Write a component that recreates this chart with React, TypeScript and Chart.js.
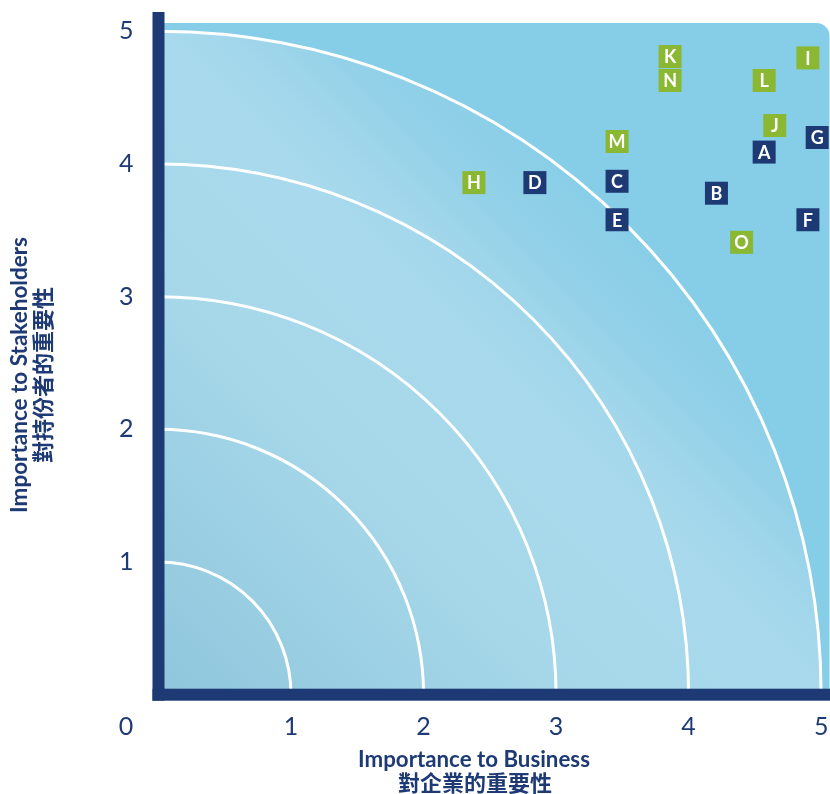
import React, { useEffect, useRef } from "react";
import { Chart, registerables } from "chart.js";

Chart.register(...registerables);

// ---- data ----
const AXIS_TICKS = [0, 1, 2, 3, 4, 5];
const RINGS = [1, 2, 3, 4, 5];
const AXIS_MAX = 5.063;

const NAVY_LABELS = ["A", "B", "C", "D", "E", "F", "G"];
const NAVY_X = [4.57, 4.21, 3.46, 2.84, 3.46, 4.9, 4.97];
const NAVY_Y = [4.09, 3.78, 3.87, 3.86, 3.58, 3.58, 4.2];

const GREEN_LABELS = ["H", "I", "J", "K", "L", "M", "N", "O"];
const GREEN_X = [2.38, 4.9, 4.65, 3.86, 4.57, 3.46, 3.86, 4.4];
const GREEN_Y = [3.86, 4.8, 4.29, 4.81, 4.63, 4.17, 4.63, 3.41];

const X_TITLE = ["Importance to Business", "對企業的重要性"];
const Y_TITLE = ["Importance to Stakeholders", "對持份者的重要性"];
const ORIGIN_LABEL = "0";

// ---- styles ----
const NAVY = "#1e3a75";
const GREEN = "#8ab832";
const TEXT = "#1e3a75";
const LATIN = "Lato, 'Noto Sans', sans-serif";
const CJK = "'Noto Sans CJK TC', 'Noto Sans CJK SC', sans-serif";
const TICK_SIZE = 25;

function fitFont(ctx: CanvasRenderingContext2D, text: string, width: number, weight: string, family: string) {
  ctx.font = `${weight} 100px ${family}`;
  const w = ctx.measureText(text).width;
  const size = (100 * width) / w;
  ctx.font = `${weight} ${size}px ${family}`;
}

const backgroundPlugin = {
  id: "matrixBackground",
  beforeDatasetsDraw(chart: any) {
    const { ctx, chartArea: a, scales } = chart;
    const x = scales.x;
    const y = scales.y;
    const ox = x.getPixelForValue(0);
    const oy = y.getPixelForValue(0);
    const rx = x.getPixelForValue(1) - ox;
    const ry = oy - y.getPixelForValue(1);
    const L = ox;
    const T = a.top;
    const R = a.right;
    const B = oy;
    const cr = 13;
    ctx.save();
    ctx.beginPath();
    ctx.moveTo(L, T);
    ctx.lineTo(R - cr, T);
    ctx.arcTo(R, T, R, T + cr, cr);
    ctx.lineTo(R, B);
    ctx.lineTo(L, B);
    ctx.closePath();
    ctx.fillStyle = "#86cee7";
    ctx.fill();
    ctx.clip();

    // diagonal gradient inside the outer ring
    const g = ctx.createLinearGradient(ox, oy, ox + 5 * rx, oy - 5 * ry);
    g.addColorStop(0, "#8fc6dc");
    g.addColorStop(0.33, "#a7d8ea");
    g.addColorStop(0.5, "#a8d9ec");
    g.addColorStop(0.55, "#a3d7eb");
    g.addColorStop(0.62, "#93d1e8");
    g.addColorStop(0.71, "#88cee7");
    g.addColorStop(1, "#86cee7");
    ctx.beginPath();
    ctx.moveTo(ox, oy);
    ctx.ellipse(ox, oy, 5 * rx, 5 * ry, 0, -Math.PI / 2, 0);
    ctx.closePath();
    ctx.fillStyle = g;
    ctx.fill();

    ctx.strokeStyle = "#ffffff";
    ctx.lineWidth = 3;
    for (const r of RINGS) {
      ctx.beginPath();
      ctx.ellipse(ox, oy, r * rx, r * ry, 0, -Math.PI / 2, 0);
      ctx.stroke();
    }
    ctx.restore();

    ctx.save();
    ctx.fillStyle = NAVY;
    ctx.fillRect(ox - 6, 12, 12, oy + 6 - 12);
    ctx.fillRect(ox - 6, oy - 6, chart.width - (ox - 6), 12);
    ctx.restore();
  },
  afterDatasetsDraw(chart: any) {
    const { ctx } = chart;
    ctx.save();
    ctx.fillStyle = "#ffffff";
    ctx.font = `bold 18px ${LATIN}`;
    ctx.textAlign = "center";
    ctx.textBaseline = "middle";
    chart.data.datasets.forEach((ds: any, i: number) => {
      const meta = chart.getDatasetMeta(i);
      meta.data.forEach((el: any, j: number) => {
        ctx.fillText(ds.letters[j], el.x, el.y + 1);
      });
    });
    ctx.restore();
  },
  afterDraw(chart: any) {
    const { ctx } = chart;
    ctx.save();
    ctx.fillStyle = TEXT;
    ctx.textBaseline = "middle";
    ctx.textAlign = "center";
    // corner origin label
    ctx.font = `${TICK_SIZE}px ${LATIN}`;
    ctx.fillText(ORIGIN_LABEL, 126, 727);
    // x title
    fitFont(ctx, X_TITLE[0], 232, "bold", LATIN);
    ctx.fillText(X_TITLE[0], 474, 760);
    ctx.font = `bold 22px ${CJK}`;
    ctx.fillText(X_TITLE[1], 475, 783);
    ctx.restore();
    // y title
    ctx.save();
    ctx.fillStyle = TEXT;
    ctx.textBaseline = "middle";
    ctx.textAlign = "center";
    ctx.translate(20, 375);
    ctx.rotate(-Math.PI / 2);
    fitFont(ctx, Y_TITLE[0], 276, "bold", LATIN);
    ctx.fillText(Y_TITLE[0], 0, 0);
    ctx.restore();
    ctx.save();
    ctx.fillStyle = TEXT;
    ctx.textBaseline = "middle";
    ctx.textAlign = "center";
    ctx.translate(43, 375);
    ctx.rotate(-Math.PI / 2);
    ctx.font = `bold 22px ${CJK}`;
    ctx.fillText(Y_TITLE[1], 0, 0);
    ctx.restore();
  },
};

export default function App() {
  const ref = useRef<HTMLCanvasElement | null>(null);
  useEffect(() => {
    if (!ref.current) return;
    const setTicks = (scale: any) => {
      scale.ticks = AXIS_TICKS.map((v) => ({ value: v }));
    };
    const zeroPad = (s: any) => {
      s.paddingLeft = 0;
      s.paddingRight = 0;
      s.paddingTop = 0;
      s.paddingBottom = 0;
    };
    const chart = new Chart(ref.current, {
      type: "scatter",
      data: {
        datasets: [
          {
            label: "Navy",
            letters: NAVY_LABELS,
            data: NAVY_X.map((v, i) => ({ x: v, y: NAVY_Y[i] })),
            backgroundColor: NAVY,
            borderWidth: 0,
            pointStyle: "rect",
            pointRadius: 23 / Math.SQRT2,
            pointHoverRadius: 23 / Math.SQRT2,
            clip: false,
          } as any,
          {
            label: "Green",
            letters: GREEN_LABELS,
            data: GREEN_X.map((v, i) => ({ x: v, y: GREEN_Y[i] })),
            backgroundColor: GREEN,
            borderWidth: 0,
            pointStyle: "rect",
            pointRadius: 23 / Math.SQRT2,
            pointHoverRadius: 23 / Math.SQRT2,
            clip: false,
          } as any,
        ],
      },
      options: {
        animation: false,
        responsive: false,
        devicePixelRatio: 1,
        layout: { autoPadding: false, padding: { top: 23, right: 0.5, left: 0, bottom: 0 } },
        plugins: {
          legend: { display: false },
          tooltip: { enabled: false },
        },
        scales: {
          x: {
            type: "linear",
            min: 0,
            max: AXIS_MAX,
            afterBuildTicks: setTicks,
            afterFit: (s: any) => {
              s.height = 99.3;
              zeroPad(s);
            },
            grid: { display: false, drawTicks: false },
            border: { display: false },
            ticks: {
              padding: 17,
              color: TEXT,
              font: { family: LATIN, size: TICK_SIZE },
              callback: (v: any) => (v === 0 ? "" : String(v)),
            },
          },
          y: {
            type: "linear",
            min: 0,
            max: AXIS_MAX,
            afterBuildTicks: setTicks,
            afterFit: (s: any) => {
              s.width = 158.5;
              zeroPad(s);
            },
            grid: { display: false, drawTicks: false },
            border: { display: false },
            ticks: {
              padding: 25,
              color: TEXT,
              font: { family: LATIN, size: TICK_SIZE },
              callback: (v: any) => (v === 0 ? "" : String(v)),
            },
          },
        },
      } as any,
      plugins: [backgroundPlugin],
    });
    return () => chart.destroy();
  }, []);
  return (
    <div style={{ position: "fixed", left: 0, top: 0, width: 830, height: 794, background: "#ffffff" }}>
      <canvas ref={ref} width={830} height={794} style={{ width: 830, height: 794, display: "block" }} />
    </div>
  );
}
